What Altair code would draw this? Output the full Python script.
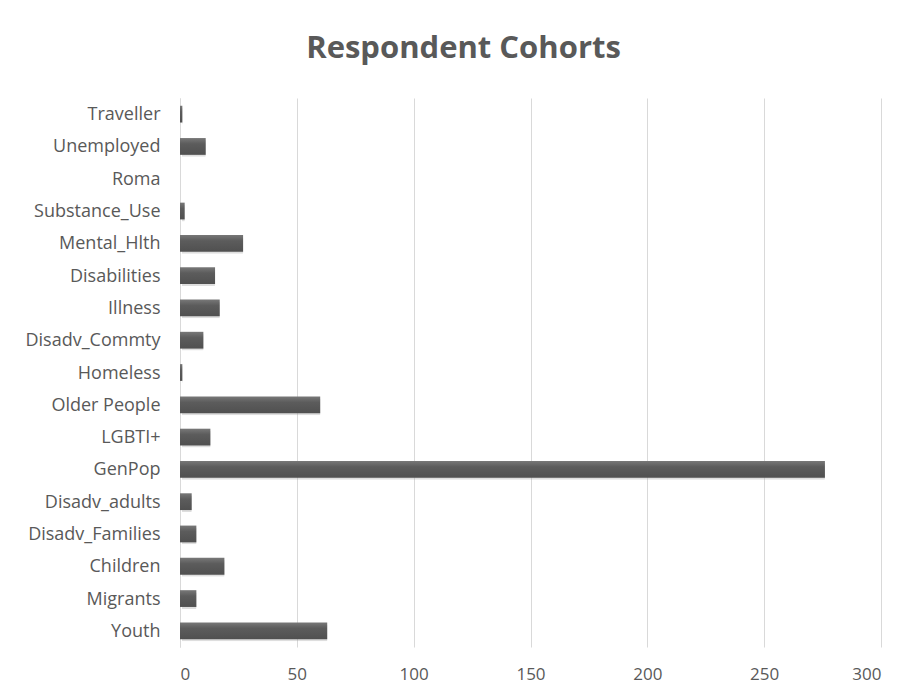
import altair as alt
import pandas as pd

# Respondent cohorts, listed top to bottom
cohorts = [
    "Traveller", "Unemployed", "Roma", "Substance_Use", "Mental_Hlth",
    "Disabilities", "Illness", "Disadv_Commty", "Homeless", "Older People",
    "LGBTI+", "GenPop", "Disadv_adults", "Disadv_Families", "Children",
    "Migrants", "Youth",
]
counts = [1, 11, 0, 2, 27, 15, 17, 10, 1, 60, 13, 276, 5, 7, 19, 7, 63]
x_ticks = [0, 50, 100, 150, 200, 250, 300]

df = pd.DataFrame({"cohort": cohorts, "count": counts})

FONT = "Open Sans"
TEXT = "#595959"

y_enc = alt.Y(
    "cohort:N",
    sort=cohorts,
    title=None,
    scale=alt.Scale(paddingInner=0.48, paddingOuter=0.24),
    axis=alt.Axis(
        ticks=False, grid=False, domain=True, domainColor="#d9d9d9",
        labelPadding=20, labelFontSize=18, labelColor=TEXT, labelFont=FONT,
        labelOffset=1,
    ),
)
x_enc = alt.X(
    "count:Q",
    title=None,
    scale=alt.Scale(domain=[0, 300], nice=False),
    axis=alt.Axis(
        values=x_ticks, ticks=False, domain=False, grid=True,
        gridColor="#d9d9d9", gridWidth=1, labelPadding=19,
        labelFontSize=17, labelColor=TEXT, labelFont=FONT,
    ),
)

shadow = alt.Chart(df).mark_bar(
    color="#a0a0a0", opacity=0.35, xOffset=2, yOffset=2, cornerRadius=1
).encode(x=x_enc, y=y_enc)

bars = alt.Chart(df).mark_bar(
    color=alt.Gradient(
        gradient="linear", x1=0, x2=0, y1=0, y2=1,
        stops=[
            alt.GradientStop(color="#787878", offset=0),
            alt.GradientStop(color="#5c5c5c", offset=0.35),
            alt.GradientStop(color="#505050", offset=1),
        ],
    )
).encode(x=x_enc, y=y_enc, tooltip=["cohort", "count"])

chart = (
    alt.layer(shadow, bars)
    .properties(
        width=701,
        height=549,
        autosize=alt.AutoSizeParams(type="none"),
        padding={"left": 180, "top": 98, "right": 32, "bottom": 51},
        title=alt.TitleParams(
            "Respondent Cohorts", anchor="middle", dx=-67, offset=33,
            fontSize=31, fontWeight="bold", font=FONT, color=TEXT,
        ),
        background="white",
    )
    .configure_view(stroke=None)
)

chart.save("out.html", embed_options={"renderer": "svg", "actions": False})
